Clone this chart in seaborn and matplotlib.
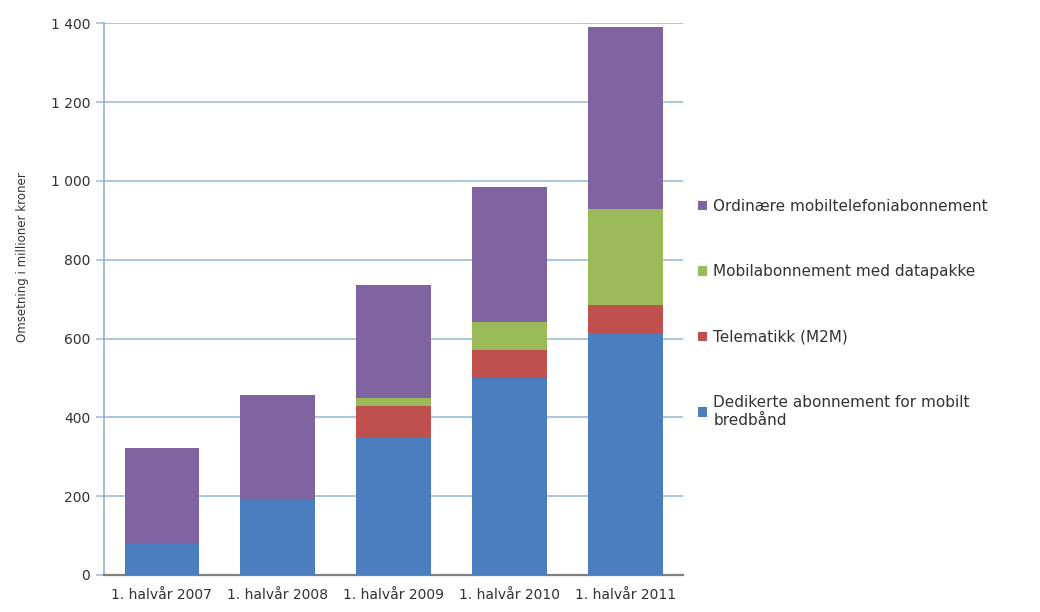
import matplotlib
matplotlib.use("Agg")
import matplotlib.pyplot as plt
import matplotlib.ticker as mticker
import numpy as np
import pandas as pd
import seaborn as sns

# Half-year periods
periods = ["1. halvår 2007", "1. halvår 2008", "1. halvår 2009", "1. halvår 2010", "1. halvår 2011"]

# Revenue in million NOK per subscription type (stacked bottom to top)
dedikerte = [78, 192, 348, 500, 612]
telematikk = [0, 0, 80, 72, 74]
datapakke = [0, 0, 22, 69, 242]
ordinaere = [244, 264, 285, 343, 462]

series_names = [
    "Dedikerte abonnement for mobilt\nbredbånd",
    "Telematikk (M2M)",
    "Mobilabonnement med datapakke",
    "Ordinære mobiltelefoniabonnement",
]
series_values = [dedikerte, telematikk, datapakke, ordinaere]
series_colors = ["#4A7EBF", "#C0504D", "#9BBB59", "#8064A2"]

y_ticks = [0, 200, 400, 600, 800, 1000, 1200, 1400]

sns.set_style("white")
plt.rcParams["font.family"] = ["DejaVu Sans"]

fig = plt.figure(figsize=(10.4, 6.12), dpi=100)
ax = fig.add_axes([0.1, 0.0605, 0.557, 0.9015])

bottom = np.zeros(len(periods))
for name, vals, col in zip(series_names, series_values, series_colors):
    df = pd.DataFrame({"periode": periods, "verdi": vals})
    sns.barplot(data=df, x="periode", y="verdi", color=col, bottom=bottom,
                width=0.645, ax=ax, label=name, saturation=1, zorder=3,
                linewidth=0, edgecolor="none")
    bottom = bottom + np.array(vals)

if ax.get_legend() is not None:
    ax.get_legend().remove()

ax.set_xlim(-0.5, len(periods) - 0.5)
ax.set_ylim(0, 1400)
ax.set_yticks(y_ticks)
ax.yaxis.set_major_formatter(
    mticker.FuncFormatter(lambda v, p: f"{int(v):,}".replace(",", " ")))
ax.yaxis.grid(True, color="#A4C2DE", linewidth=1.3, zorder=0)
ax.xaxis.grid(False)

for side in ["top", "right"]:
    ax.spines[side].set_visible(False)
ax.spines["left"].set_color("#8FB0D0")
ax.spines["left"].set_linewidth(1.2)
ax.spines["bottom"].set_color("#7F7F7F")
ax.spines["bottom"].set_linewidth(1.6)

ax.tick_params(axis="y", which="major", left=True, length=6, width=1.1,
               color="#9DBBD8", labelsize=10, labelcolor="#333333", pad=4)
ax.tick_params(axis="x", bottom=False, labelsize=10, labelcolor="#333333", pad=6)
ax.set_xlabel("")
ax.set_ylabel("Omsetning i millioner kroner", fontsize=8.5, color="#333333")
ax.yaxis.set_label_coords(-0.13, 0.576)

handles, labels = ax.get_legend_handles_labels()
fig.legend(handles[::-1], labels[::-1], loc="center left",
           bbox_to_anchor=(0.658, 0.488), frameon=False, fontsize=11,
           handlelength=0.6, handleheight=0.6, handletextpad=0.4,
           labelspacing=3.3, labelcolor="#333333")

fig.savefig("out.png", dpi=100)
